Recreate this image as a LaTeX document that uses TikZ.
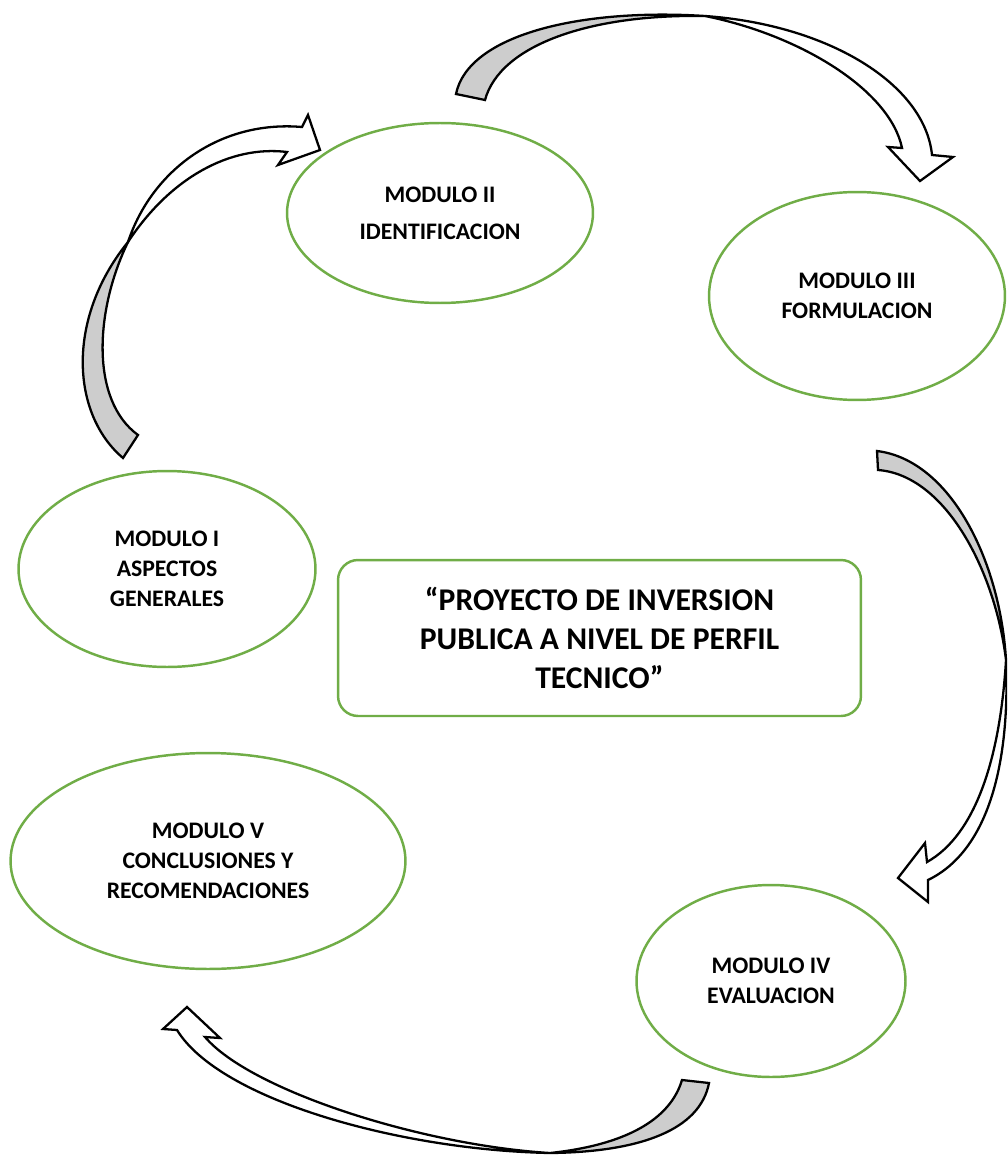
\documentclass[tikz,border=0pt]{standalone}
\usepackage{fontspec}
\setmainfont{Carlito}
\usetikzlibrary{shapes.geometric}
\definecolor{modgreen}{HTML}{70AD47}
\definecolor{ribgray}{HTML}{CDCDCD}
\begin{document}
\begin{tikzpicture}[x=0.02cm,y=-0.02cm,
  modell/.style={ellipse, draw=modgreen, line width=1.4pt, inner sep=0pt, align=center,
    font=\bfseries\fontsize{13.5}{17}\selectfont},
  titlebox/.style={draw=modgreen, line width=1.4pt, rounded corners=0.4cm, inner sep=0pt,
    align=center, font=\bfseries\fontsize{18}{22}\selectfont},
  ribback/.style={draw=black, fill=ribgray, line width=1.3pt, line join=miter},
  ribfront/.style={draw=black, fill=white, line width=1.3pt, line join=miter}]
\useasboundingbox (0,0) rectangle (1007,1155);
\clip (0,0) rectangle (1007,1155);

% curved arrow 1 (top): Modulo II -> Modulo III
\draw[ribback] (456,94) .. controls (468,35) and (580,8) .. (705,16)
  .. controls (590,14) and (500,45) .. (485,100) -- cycle;
\draw[ribfront] (705,16) .. controls (830,25) and (925,85) .. (932,155)
  -- (953,157) -- (920,181) -- (888,147) -- (902,148)
  .. controls (890,90) and (800,35) .. (705,16) -- cycle;

% curved arrow 2 (left): Modulo I -> Modulo II
\draw[ribback] (123,458) .. controls (72,415) and (65,320) .. (128,242)
  .. controls (95,310) and (90,400) .. (138,435) -- cycle;
\draw[ribfront] (128,242) .. controls (152,170) and (220,120) .. (302,127)
  -- (308,115) -- (320,150) -- (278,165) -- (287,152)
  .. controls (230,145) and (170,178) .. (128,242) -- cycle;

% curved arrow 3 (right): Modulo III -> Modulo IV
\draw[ribback] (877,451) .. controls (950,460) and (1000,560) .. (1006,660)
  .. controls (995,570) and (945,475) .. (878,470) -- cycle;
\draw[ribfront] (1006,660) .. controls (1010,760) and (990,850) .. (928,880)
  -- (928,902) -- (898,878) -- (925,843) -- (927,862)
  .. controls (975,835) and (1000,760) .. (1006,660) -- cycle;

% curved arrow 4 (bottom): Modulo IV -> Modulo V
\draw[ribback] (709,1083) .. controls (700,1130) and (640,1152) .. (550,1153)
  .. controls (625,1145) and (670,1120) .. (682,1080) -- cycle;
\draw[ribfront] (550,1153) .. controls (400,1150) and (220,1100) .. (177,1030)
  -- (163,1029) -- (187,1007) -- (220,1038) -- (205,1037)
  .. controls (250,1090) and (420,1145) .. (550,1153) -- cycle;

% modules
\node[modell, minimum width=6.12cm, minimum height=3.6cm,
  font=\bfseries\fontsize{13.5}{21}\selectfont] (m2) at (440,213) {MODULO II\\IDENTIFICACION};
\node[modell, minimum width=5.92cm, minimum height=4.16cm] (m3) at (857,296) {MODULO III\\FORMULACION};
\node[modell, minimum width=5.94cm, minimum height=3.92cm] (m1) at (167,569) {MODULO I\\ASPECTOS\\GENERALES};
\node[modell, minimum width=7.9cm, minimum height=4.32cm] (m5) at (208,861) {MODULO V\\CONCLUSIONES Y\\RECOMENDACIONES};
\node[modell, minimum width=5.38cm, minimum height=3.84cm] (m4) at (771,981) {MODULO IV\\EVALUACION};

% title
\node[titlebox, minimum width=10.46cm, minimum height=3.12cm] (title) at (599.5,638)
  {“PROYECTO DE INVERSION\\PUBLICA A NIVEL DE PERFIL\\TECNICO”};
\end{tikzpicture}
\end{document}
